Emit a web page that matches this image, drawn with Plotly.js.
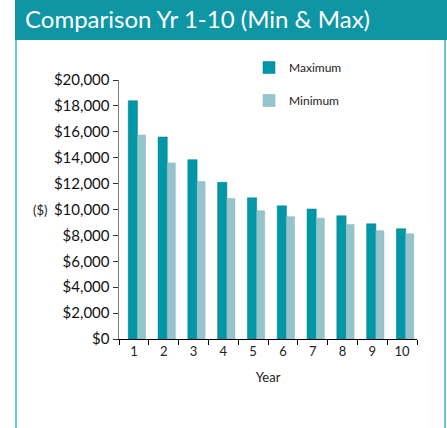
<!DOCTYPE html>
<html><head><meta charset="utf-8">
<script src="https://cdn.plot.ly/plotly-3.0.1.min.js"></script>
<style>html,body{margin:0;padding:0;background:#fff;}#chart{width:447px;height:428px;}</style>
</head><body><div id="chart"></div>
<script>
const years = ['1','2','3','4','5','6','7','8','9','10'];
const maximum = [18400, 15600, 13850, 12100, 10900, 10280, 10040, 9520, 8900, 8520];
const minimum = [15750, 13600, 12170, 10840, 9900, 9440, 9330, 8850, 8360, 8130];
const seriesNames = ['Maximum', 'Minimum'];
const yTicks = [0,2000,4000,6000,8000,10000,12000,14000,16000,18000,20000];
const yTickText = yTicks.map(v => '$' + v.toLocaleString('en-US'));

const FONT = 'Lato, "DejaVu Sans", sans-serif';
const L = 119, R = 417, T = 80, B = 339;
const W = R - L, H = B - T;
const px = x => (x - L) / W;
const py = y => (B - y) / H;

const traces = [
  {type:'bar', x: years, y: maximum, name: seriesNames[0], legendgroup:'a', offset: -0.19, width: 0.31,
   marker:{color:'#0097a7', line:{color:'#007f8c', width:0.5}}},
  {type:'bar', x: years, y: minimum, name: seriesNames[1], legendgroup:'b', offset: 0.12, width: 0.27,
   marker:{color:'#96c4cc', line:{color:'#84b4bd', width:0.5}}}
];

const layout = {
  width: 447, height: 428,
  margin: {l: L, r: 447 - R, t: T, b: 428 - B},
  paper_bgcolor: '#ffffff', plot_bgcolor: '#ffffff',
  barmode: 'group',
  showlegend: true,
  title: {text: 'Comparison Yr 1-10 (Min &amp; Max)', x: 25/447, xanchor: 'left', xref: 'container',
          y: 1 - 20/428, yanchor: 'middle', yref: 'container',
          font: {family: FONT, size: 24, color: '#ffffff'}},
  legend: {x: px(249), y: py(53), xanchor: 'left', yanchor: 'top', bgcolor: 'rgba(0,0,0,0)',
           font: {family: FONT, size: 12, color: '#222'}, traceorder: 'grouped', tracegroupgap: 14},
  xaxis: {type: 'category', tickvals: years, ticktext: years, showline: true, linecolor: '#000', linewidth: 1,
          ticks: 'outside', ticklen: 5, tickcolor: '#000', tickson: 'boundaries',
          tickfont: {family: FONT, size: 13, color: '#222'}, showgrid: false, zeroline: false,
          title: {text: 'Year', font: {family: FONT, size: 13, color: '#222'}, standoff: 15}},
  yaxis: {range: [0, 20000], tickvals: yTicks, ticktext: yTickText,
          showline: true, linecolor: '#808080', linewidth: 1.5, ticks: 'outside', ticklen: 5, tickcolor: '#333',
          tickfont: {family: FONT, size: 15, color: '#111'}, showgrid: false, zeroline: false},
  annotations: [
    {text: '($)', xref: 'paper', yref: 'paper', x: px(40), y: py(210), xanchor: 'center', yanchor: 'middle',
     showarrow: false, font: {family: FONT, size: 13, color: '#222'}}
  ],
  shapes: [
    {type: 'rect', xref: 'paper', yref: 'paper', x0: px(15), x1: px(447), y0: py(40), y1: py(0),
     fillcolor: '#0e96a5', line: {width: 0}, layer: 'below'},
    {type: 'line', xref: 'paper', yref: 'paper', x0: px(16), x1: px(16), y0: py(40), y1: py(428),
     line: {color: '#6cc4d0', width: 2}},
    {type: 'line', xref: 'paper', yref: 'paper', x0: px(445), x1: px(445), y0: py(40), y1: py(428),
     line: {color: '#6cc4d0', width: 2}}
  ]
};

Plotly.newPlot('chart', traces, layout, {displayModeBar: false, staticPlot: true});
</script></body></html>
